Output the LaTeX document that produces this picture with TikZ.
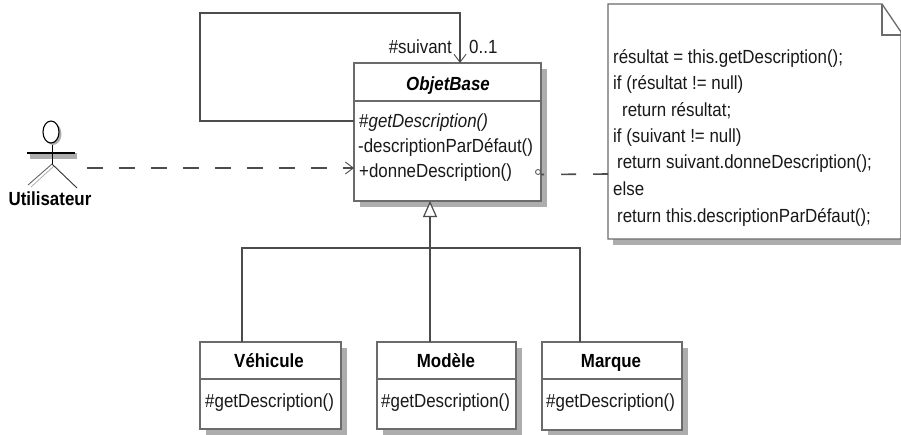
\documentclass[tikz,border=0pt]{standalone}
\usepackage{fontspec}
\setmainfont[FakeStretch=0.89]{Liberation Sans}
\usetikzlibrary{arrows.meta,shapes.geometric}
\definecolor{ln}{gray}{0.42}
\definecolor{sh}{gray}{0.68}
\tikzset{
 x=1pt,y=-1pt,
 lbl/.style={inner sep=0pt,anchor=base west,font=\fontsize{19}{19}\selectfont,text=black!90},
 ttl/.style={inner sep=0pt,anchor=base,font=\fontsize{19}{19}\selectfont\bfseries,text=black},
 boxl/.style={draw=ln,line width=1.3pt,fill=white},
 conn/.style={draw=black!70,line width=1.4pt},
 dsh/.style={draw=black!70,line width=1.6pt,dash pattern=on 16pt off 16pt},
 openarr/.style={-{Straight Barb[length=8pt,width=12pt,line width=.9pt]}},
 tri/.style={-{Triangle[open,length=16pt,width=14pt,line width=1.2pt,fill=white]}},
}
\newcommand{\classbox}[6]{% name,x0,y0,x1,y1,ydiv
 \fill[sh] (#2+6,#3+6) rectangle (#4+6,#5+6);
 \path[boxl] (#2,#3) rectangle (#4,#5);
 \coordinate (#1) at (#2,#3);
 \draw[ln,line width=1.3pt] (#2,#6) -- (#4,#6);
}
\begin{document}
\begin{tikzpicture}
\useasboundingbox (0,0) rectangle (901,434);
\fill[white] (0,0) rectangle (901,434);
% note
\fill[sh] (613,239) rectangle (901,245);
\path[draw=ln,line width=1.3pt,fill=white] (608,4) -- (882,4) -- (901,32) -- (901,239) -- (608,239) -- cycle;
\draw[ln,line width=1.3pt] (882,4) -- (882,35) -- (901,35);
\coordinate (noteW) at (608,174);
\node[lbl] (n1) at (613,63) {résultat = this.getDescription();};
\node[lbl] (n2) at (613,89) {if (résultat != null)};
\node[lbl] (n3) at (622,116) {return résultat;};
\node[lbl] (n4) at (613,142) {if (suivant != null)};
\node[lbl] (n5) at (617,168) {return suivant.donneDescription();};
\node[lbl] (n6) at (613,195) {else};
\node[lbl] (n7) at (617,222) {return this.descriptionParDéfaut();};
% classes
\classbox{base}{354}{63}{541}{201}{101}
\classbox{veh}{200}{342}{341}{429}{379}
\classbox{mod}{377}{342}{516}{429}{379}
\classbox{mar}{542}{342}{682}{430}{379}
\node[ttl,font=\fontsize{19}{19}\selectfont\bfseries\itshape] (tb) at (448,90) {ObjetBase};
\node[lbl] (m1) at (359,127) {\#\textit{getDescription()}};
\node[lbl] (m2) at (358,152) {-descriptionParDéfaut()};
\node[lbl] (m3) at (359,177) {+donneDescription()};
\node[ttl] (tv) at (269,367) {Véhicule};
\node[ttl] (tm) at (446,367) {Modèle};
\node[ttl] (tr) at (611,367) {Marque};
\node[lbl] (mv) at (205,407) {\#getDescription()};
\node[lbl] (mm) at (381,407) {\#getDescription()};
\node[lbl] (mr) at (546,407) {\#getDescription()};
% self association
\coordinate (selfA) at (354,121);
\coordinate (selfB) at (460,63);
\draw[conn,openarr] (selfA) -- (200,121) -- (200,13) -- (460,13) -- (selfB);
\node[lbl,anchor=base east] (suiv) at (452,53) {\#suivant};
\node[lbl] (mult) at (469,53) {0..1};
% actor
\fill[sh] (30,153) rectangle (77,159);
\draw[black,line width=2pt] (27,152.7) -- (75,152.7);
\draw[black,line width=1pt] (52,143) -- (52,164);
\draw[black!60,line width=.9pt] (52,164) -- (28,185);
\draw[black!35,line width=.7pt] (54,166) -- (31,187);
\draw[black!80,line width=.9pt] (52,164) -- (77,188);
\fill[sh] (53,134) ellipse [x radius=8.5pt,y radius=11pt];
\node[draw=black,line width=1.1pt,fill=white,ellipse,minimum width=16pt,minimum height=22pt,inner sep=0pt] (head) at (51,132) {};
\node[ttl] (actor) at (50,205) {Utilisateur};
% dependency
\coordinate (actE) at (87,168);
\draw[dsh,openarr] (actE) -- (354,168);
% note link
\coordinate (baseE) at (541,174.5);
\draw[dsh,dash pattern=on 15pt off 17pt] (noteW) -- (baseE);
\node[circle,draw=black!70,line width=.8pt,fill=white,minimum size=5pt,inner sep=0pt] (anch) at (538,172) {};
% inheritance
\coordinate (trunk) at (430,248);
\draw[conn] (242,342) -- (242,248) -- (580,248) -- (580,342);
\draw[conn,tri] (430,342) -- (430,201);
\end{tikzpicture}
\end{document}
